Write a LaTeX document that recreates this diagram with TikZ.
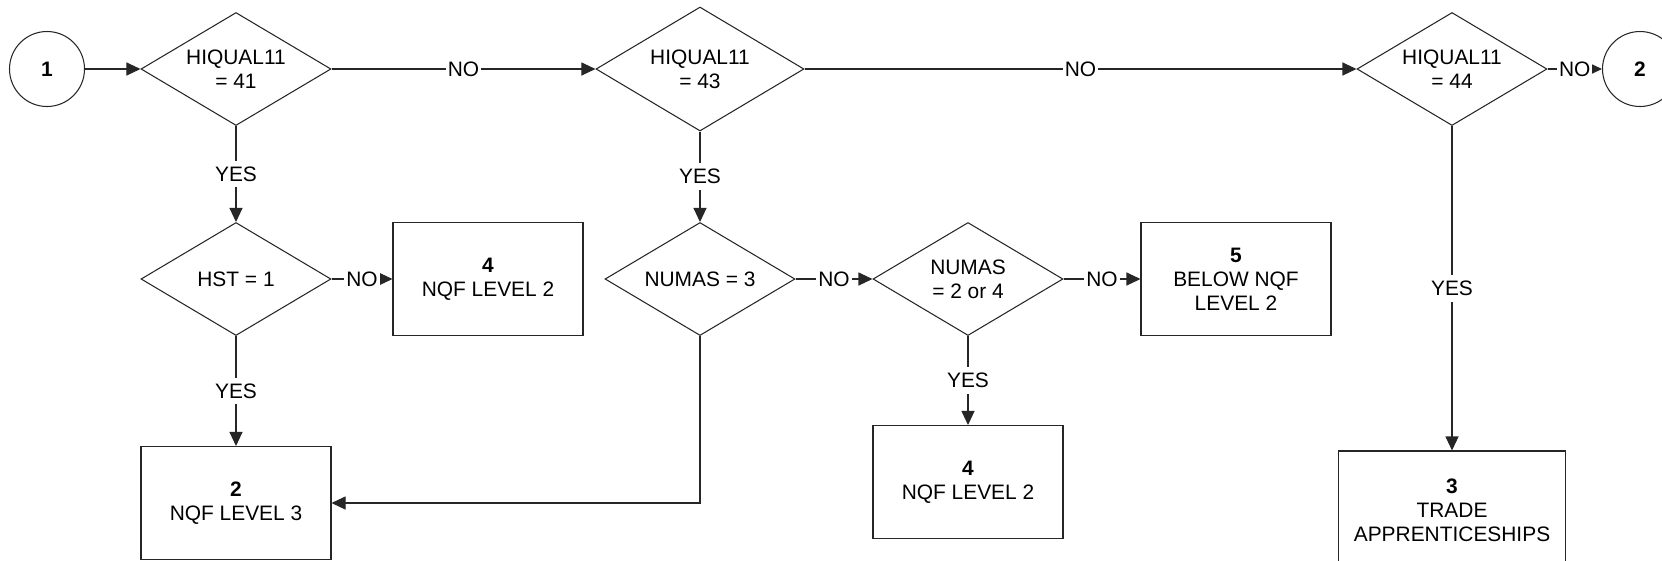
\documentclass[tikz,border=0pt]{standalone}
\usepackage{fontspec}
\setmainfont{Liberation Sans}
\usetikzlibrary{arrows.meta,shapes.geometric}
\definecolor{ink}{HTML}{262626}
\newcommand{\BoxW}{38mm}
\newcommand{\BoxH}{22.6mm}

\begin{document}
\begin{tikzpicture}[x=0.2mm,y=-0.2mm,
  font=\fontsize{11.9}{13.7}\selectfont,
  >={Triangle[length=2.8mm,width=2.6mm]},
  cond/.style={diamond,draw=ink,line width=0.6pt,aspect=1.68,inner sep=0pt,
    minimum width=\BoxW,minimum height=\BoxH,align=center},
  outcome/.style={rectangle,draw=ink,line width=0.6pt,
    minimum width=\BoxW,minimum height=\BoxH,align=center},
  link/.style={circle,draw=ink,line width=0.6pt,minimum size=15mm,inner sep=0pt,
    font=\fontsize{11.9}{13.7}\selectfont\bfseries},
  flow/.style={draw=ink,line width=0.6pt,->},
  ans/.style={fill=white,inner xsep=0.4mm,inner ysep=1.2mm}]

\useasboundingbox (0,0) rectangle (1662,560);

% ---------------- top row: HIQUAL11 tests ----------------------------------
\node[link] (c1) at (47,69) {1};
\node[cond] (q41) at (236,69) {HIQUAL11\\= 41};
\node[cond,minimum width=41.6mm,minimum height=24.8mm] (q43) at (700,69) {HIQUAL11\\= 43};
\node[cond] (q44) at (1452,69) {HIQUAL11\\= 44};
\node[link] (c2) at (1640,69) {2};

% ---------------- second row -----------------------------------------------
\node[cond] (hst) at (236,279) {HST = 1};
\node[outcome] (r4a) at (488,279) {\textbf{4}\\NQF LEVEL 2};
\node[cond] (nm3) at (700,279) {NUMAS = 3};
\node[cond] (nm24) at (968,279) {NUMAS\\= 2 or 4};
\node[outcome] (r5) at (1236,279) {\textbf{5}\\BELOW NQF\\LEVEL 2};

% ---------------- bottom row -----------------------------------------------
\node[outcome] (r2) at (236,503) {\textbf{2}\\NQF LEVEL 3};
\node[outcome] (r4b) at (968,482) {\textbf{4}\\NQF LEVEL 2};
% runs off the bottom edge, as in the print
\node[outcome,minimum width=45.4mm,minimum height=23.6mm] (r3) at (1452,510)
  {\textbf{3}\\TRADE\\APPRENTICESHIPS};

% ---------------- connectors -----------------------------------------------
\draw[flow] (c1) -- (q41);
\draw[flow] (q41) -- node[ans] (no1) {NO} (q43);
\draw[flow] (q43) -- node[ans] (no2) {NO} (q44);
\draw[flow] (q44) -- node[ans] (no3) {NO} (c2);

\draw[flow] (q41) -- node[ans] (yes1) {YES} (hst);
\draw[flow] (hst) -- node[ans] (no4) {NO} (r4a);
\draw[flow] (hst) -- node[ans] (yes2) {YES} (r2);

\draw[flow] (q43) -- node[ans] (yes3) {YES} (nm3);
\draw[flow] (nm3.south) |- (r2.east);
\draw[flow] (nm3) -- node[ans] (no5) {NO} (nm24);
\draw[flow] (nm24) -- node[ans] (no6) {NO} (r5);
\draw[flow] (nm24) -- node[ans] (yes4) {YES} (r4b);

\draw[flow] (q44) -- node[ans] (yes5) {YES} (r3);

\end{tikzpicture}
\end{document}
